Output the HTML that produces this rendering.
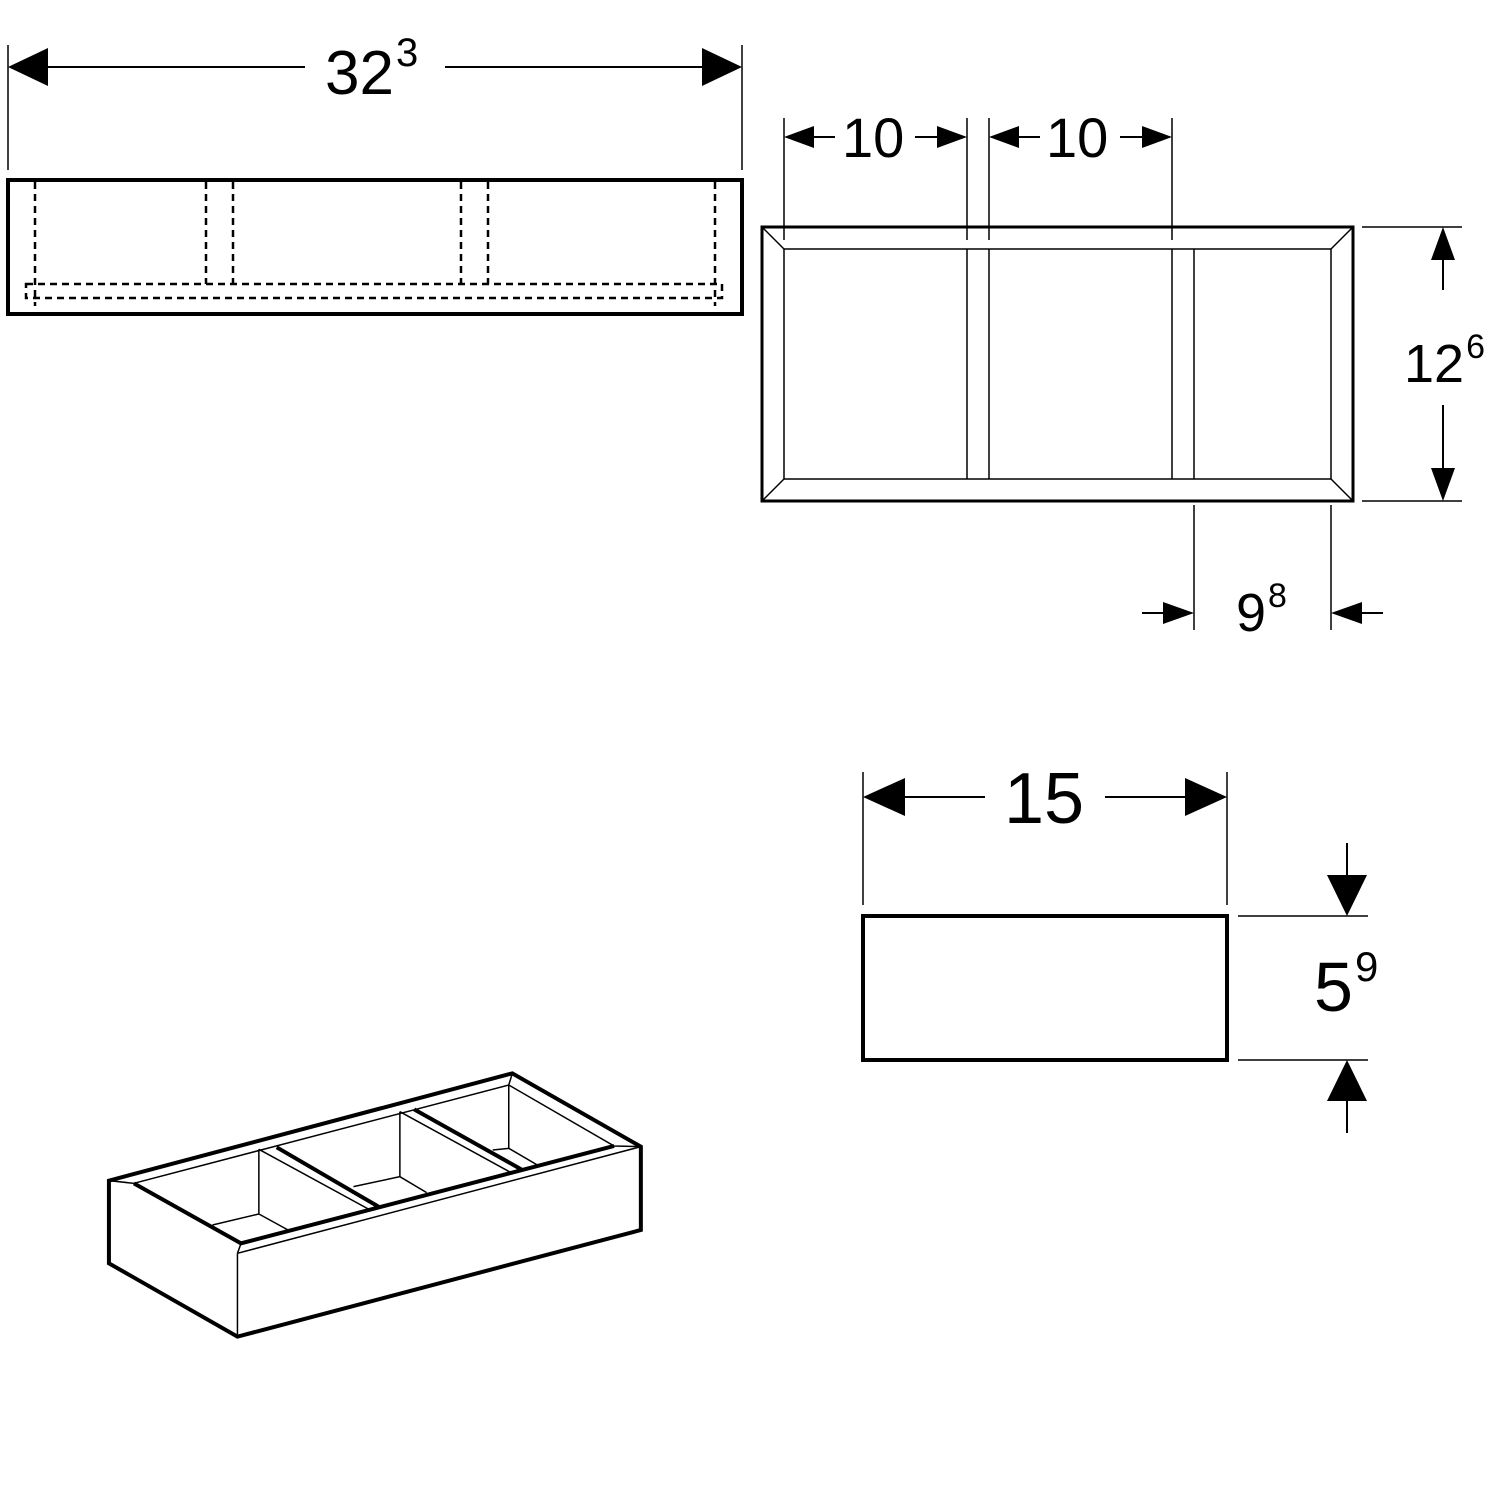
<!DOCTYPE html>
<html><head><meta charset="utf-8"><style>
html,body{margin:0;padding:0;background:#fff}
svg{display:block}
text{font-family:"Liberation Sans",sans-serif;fill:#000}
</style></head><body>
<svg width="1500" height="1500" viewBox="0 0 1500 1500" xmlns="http://www.w3.org/2000/svg">
<g stroke="#000" fill="none">
<rect x="8" y="180" width="734" height="134" stroke-width="4"/>
<g stroke-width="2.5" stroke-dasharray="7,5">
<line x1="35" y1="182" x2="35" y2="306"/>
<line x1="715" y1="182" x2="715" y2="306"/>
<line x1="206" y1="182" x2="206" y2="284"/>
<line x1="233" y1="182" x2="233" y2="284"/>
<line x1="461" y1="182" x2="461" y2="284"/>
<line x1="488" y1="182" x2="488" y2="284"/>
<path d="M26,284H722V298H26Z"/>
</g>
<line x1="8" y1="45" x2="8" y2="170" stroke-width="1.5"/>
<line x1="742" y1="45" x2="742" y2="170" stroke-width="1.5"/>
<line x1="48" y1="67" x2="305" y2="67" stroke-width="2"/>
<line x1="445" y1="67" x2="702" y2="67" stroke-width="2"/>
</g>
<path d="M8,67L48,48L48,86z M742,67L702,48L702,86z"/>
<text x="325" y="94" font-size="62">32<tspan font-size="40" dx="2" dy="-28">3</tspan></text>

<g stroke="#000" fill="none">
<rect x="762" y="227" width="591" height="274" stroke-width="3"/>
<g stroke-width="1.5">
<rect x="784" y="249" width="547" height="230"/>
<line x1="762" y1="227" x2="784" y2="249"/><line x1="1353" y1="227" x2="1331" y2="249"/>
<line x1="762" y1="501" x2="784" y2="479"/><line x1="1353" y1="501" x2="1331" y2="479"/>
<line x1="967" y1="249" x2="967" y2="479"/><line x1="989" y1="249" x2="989" y2="479"/>
<line x1="1172" y1="249" x2="1172" y2="479"/><line x1="1194" y1="249" x2="1194" y2="479"/>
<line x1="784" y1="118" x2="784" y2="240"/><line x1="967" y1="118" x2="967" y2="240"/>
<line x1="989" y1="118" x2="989" y2="240"/><line x1="1172" y1="118" x2="1172" y2="240"/>
<line x1="1362" y1="227" x2="1462" y2="227"/><line x1="1362" y1="501" x2="1462" y2="501"/>
<line x1="1194" y1="505" x2="1194" y2="630"/><line x1="1331" y1="505" x2="1331" y2="630"/>
<line x1="1238" y1="916" x2="1368" y2="916"/><line x1="1238" y1="1060" x2="1368" y2="1060"/>
<line x1="863" y1="772" x2="863" y2="905"/><line x1="1227" y1="772" x2="1227" y2="905"/>
</g>
<g stroke-width="2">
<line x1="810" y1="137" x2="835" y2="137"/><line x1="915" y1="137" x2="940" y2="137"/>
<line x1="1015" y1="137" x2="1040" y2="137"/><line x1="1120" y1="137" x2="1145" y2="137"/>
<line x1="1443" y1="260" x2="1443" y2="290"/><line x1="1443" y1="405" x2="1443" y2="468"/>
<line x1="1142" y1="613" x2="1165" y2="613"/><line x1="1360" y1="613" x2="1383" y2="613"/>
<line x1="905" y1="797" x2="985" y2="797"/><line x1="1105" y1="797" x2="1185" y2="797"/>
<line x1="1347" y1="843" x2="1347" y2="876"/><line x1="1347" y1="1100" x2="1347" y2="1133"/>
</g>
<rect x="863" y="916" width="364" height="144" stroke-width="4"/>
</g>
<g fill="#000">
<path d="M784,137L814,126L814,148z M967,137L937,126L937,148z M989,137L1019,126L1019,148z M1172,137L1142,126L1142,148z"/>
<path d="M1443,227L1431,260L1455,260z M1443,501L1431,468L1455,468z"/>
<path d="M1194,613L1163,602L1163,624z M1331,613L1362,602L1362,624z"/>
<path d="M863,797L905,778L905,816z M1227,797L1185,778L1185,816z"/>
<path d="M1347,916L1327,875L1367,875z M1347,1060L1327,1101L1367,1101z"/>
</g>
<text x="842" y="157" font-size="56">10</text>
<text x="1046" y="157" font-size="56">10</text>
<text x="1404" y="382" font-size="54">12<tspan font-size="34" dx="2" dy="-24">6</tspan></text>
<text x="1236" y="631" font-size="54">9<tspan font-size="34" dx="2" dy="-24">8</tspan></text>
<text x="1004" y="823" font-size="72">15</text>
<text x="1314" y="1011" font-size="70">5<tspan font-size="42" dx="2" dy="-30">9</tspan></text>

<g transform="translate(100,1060) scale(0.357,0.3333)" fill="none" stroke="#000">
<g stroke-width="4">
<path vector-effect="non-scaling-stroke" d="M25,362L1155,40L1515,260L1515,510L385,830L25,610Z"/>
<path vector-effect="non-scaling-stroke" d="M95,370L395,550L1440,258"/>
<path vector-effect="non-scaling-stroke" d="M495,262L780,440"/>
<path vector-effect="non-scaling-stroke" d="M880,148L1180,328"/>
</g>
<g stroke-width="1.5">
<path vector-effect="non-scaling-stroke" d="M385,580L385,830"/>
<path vector-effect="non-scaling-stroke" d="M25,362L95,370"/>
<path vector-effect="non-scaling-stroke" d="M385,580L395,550"/>
<path vector-effect="non-scaling-stroke" d="M385,580L1515,260"/>
<path vector-effect="non-scaling-stroke" d="M95,370L1145,75L1440,258L1515,260"/>
<path vector-effect="non-scaling-stroke" d="M1155,40L1145,75L1145,265L1225,315"/>
<path vector-effect="non-scaling-stroke" d="M1100,270L1145,265"/>
<path vector-effect="non-scaling-stroke" d="M445,268L760,452"/>
<path vector-effect="non-scaling-stroke" d="M445,268L445,462L530,512 M315,495L445,462"/>
<path vector-effect="non-scaling-stroke" d="M840,155L1150,337"/>
<path vector-effect="non-scaling-stroke" d="M840,155L840,350L915,398 M710,380L840,350"/>
</g>
</g>
</svg>
</body></html>
